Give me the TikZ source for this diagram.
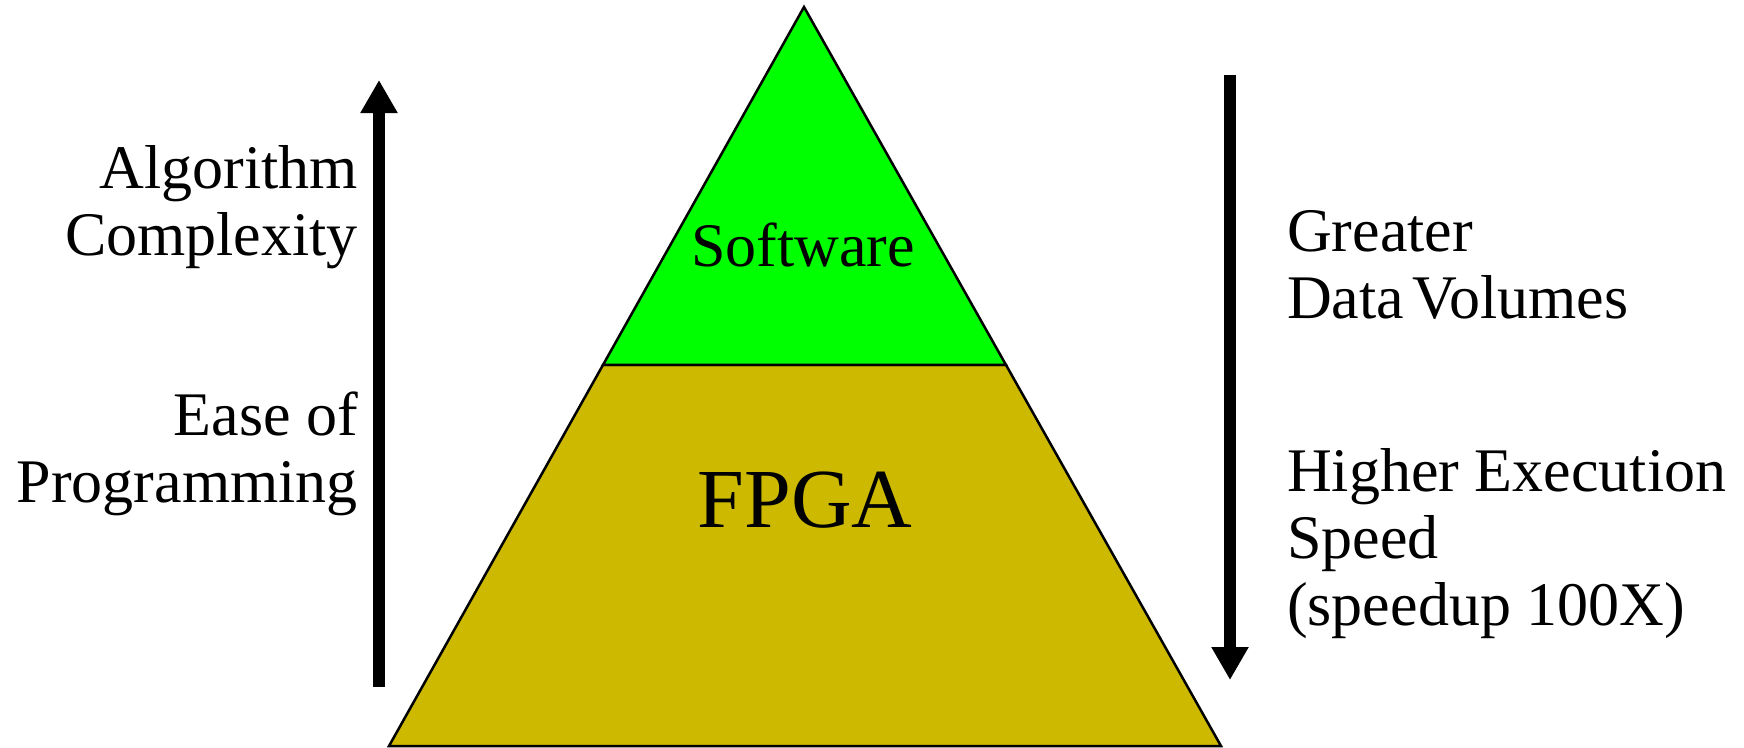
\documentclass[tikz,border=0pt]{standalone}
\usepackage{fontspec}
\setmainfont{Liberation Serif}
\usetikzlibrary{arrows.meta,calc}
\definecolor{swgreen}{RGB}{0,255,0}
\definecolor{fpgaolive}{RGB}{204,185,0}
\begin{document}
\begin{tikzpicture}[x=1pt,y=-1pt,
  tier/.style={draw=black,line width=2.5pt,line join=miter},
  bigarrow/.style={line width=12pt,-{Triangle[width=35pt,length=33pt]}},
  label/.style={font=\fontsize{62}{67}\selectfont,inner sep=0pt},
  sidelabel/.style={label,align=left,anchor=base west},
  sidelabelr/.style={label,align=right,anchor=base east}]
  \useasboundingbox (0,0) rectangle (1744,747);
  % pyramid corners
  \coordinate (apex) at (804,7);
  \coordinate (bl) at (389,746);
  \coordinate (br) at (1221,746);
  \coordinate (ml) at ($(apex)!0.4844!(bl)$);
  \coordinate (mr) at ($(apex)!0.4844!(br)$);
  % lower tier and upper tier
  \draw[tier,fill=fpgaolive] (ml) -- (bl) -- (br) -- (mr) -- cycle;
  \draw[tier,fill=swgreen] (apex) -- (ml) -- (mr) -- cycle;
  \node[label,anchor=base] (sw) at (803,266) {Software};
  \node[font=\fontsize{84}{90}\selectfont,inner sep=0pt,anchor=base] (fpga) at (805,527) {FPGA};
  % direction arrows
  \coordinate (lb) at (379,687);
  \coordinate (lt) at (379,80);
  \coordinate (rt) at (1230,75);
  \coordinate (rb) at (1230,680);
  \draw[bigarrow] (lb) -- (lt);
  \draw[bigarrow] (rt) -- (rb);
  % side labels (base anchor sits on the last line)
  \node[sidelabelr] (alg) at (358,255) {Algorithm\\Complexity};
  \node[sidelabelr] (ease) at (358,502) {Ease of\\Programming};
  \node[sidelabel] (data) at (1287,318) {Greater\\Data\kern8pt Volumes};
  \node[sidelabel] (speed) at (1287,625) {Higher Execution\\Speed\\(speedup 100X)};
\end{tikzpicture}
\end{document}
